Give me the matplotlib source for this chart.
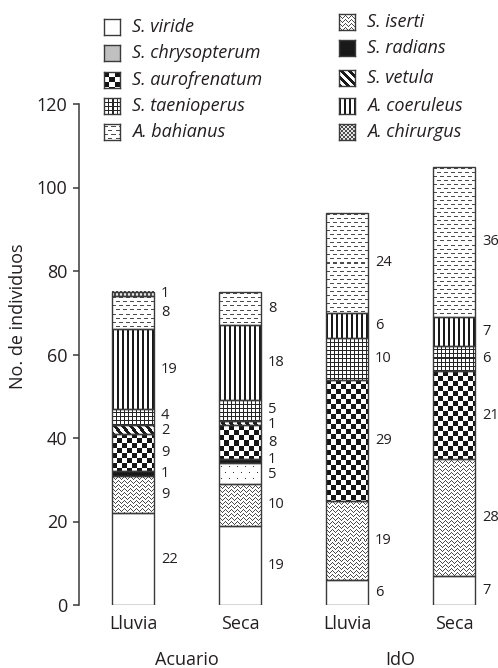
import numpy as np
import matplotlib
matplotlib.use("Agg")
import matplotlib.pyplot as plt
import matplotlib.transforms as mtransforms

plt.rcParams['font.family'] = ['Open Sans', 'DejaVu Sans']

# ── DATA ───────────────────────────────────────────
bars   = ['Lluvia', 'Seca', 'Lluvia', 'Seca']
groups = ['Acuario', 'IdO']

# stacked bottom -> top
species = ['S. viride', 'S. iserti', 'S. chrysopterum', 'S. radians', 'S. aurofrenatum',
           'S. vetula', 'S. taenioperus', 'A. coeruleus', 'A. bahianus', 'A. chirurgus']
viride       = [22, 19, 6, 7]
iserti       = [9, 10, 19, 28]
chrysopterum = [0, 5, 0, 0]
radians      = [1, 1, 0, 0]
aurofrenatum = [9, 8, 29, 21]
vetula       = [2, 1, 0, 0]
taenioperus  = [4, 5, 10, 6]
coeruleus    = [19, 18, 6, 7]
bahianus     = [8, 8, 24, 36]
chirurgus    = [1, 0, 0, 0]
counts = [viride, iserti, chrysopterum, radians, aurofrenatum,
          vetula, taenioperus, coeruleus, bahianus, chirurgus]

legend_left  = ['S. viride', 'S. chrysopterum', 'S. aurofrenatum', 'S. taenioperus', 'A. bahianus']
legend_right = ['S. iserti', 'S. radians', 'S. vetula', 'A. coeruleus', 'A. chirurgus']

# ── STYLE ──────────────────────────────────────────
pattern = {'S. viride': 'white', 'S. iserti': 'zigzag', 'S. chrysopterum': 'dots',
           'S. radians': 'black', 'S. aurofrenatum': 'check', 'S. vetula': 'diag',
           'S. taenioperus': 'grid', 'A. coeruleus': 'vlines', 'A. bahianus': 'dash',
           'A. chirurgus': 'fine'}
legend_pattern = dict(pattern, **{'S. chrysopterum': 'grey'})
INK = '#231f20'
EDGE = '#3a3a3a'


def texture(kind, w, h):
    i, j = np.mgrid[0:h, 0:w]
    img = np.ones((h, w))
    if kind == 'black':
        img[:] = 0.1
    elif kind == 'grey':
        img[:] = 0.75
    elif kind == 'check':
        img = np.where(((i // 5) + (j // 5)) % 2 == 0, 0.08, 1.0)
    elif kind == 'fine':
        img = np.where(((i // 2) + (j // 2)) % 2 == 0, 0.3, 0.9)
    elif kind == 'vlines':
        img = np.where(j % 5 < 2, 0.1, 1.0)
    elif kind == 'grid':
        img = np.where((i % 4 == 0) | (j % 4 == 0), 0.15, 1.0)
    elif kind == 'diag':
        img = np.where((j - i) % 8 < 4, 0.1, 1.0)
    elif kind == 'dash':
        shift = ((i // 4) % 2) * 3
        img = np.where((i % 4 == 2) & ((j + shift) % 7 < 4), 0.3, 1.0)
    elif kind == 'zigzag':
        tri = np.abs((j % 6) - 3)
        img = np.where((i + tri) % 4 < 1, 0.3, 1.0)
    elif kind == 'dots':
        shift = ((i // 6) % 2) * 4
        img = np.where((i % 6 == 3) & ((j + shift) % 8 == 2), 0.2, 1.0)
    return img


W, H = 498, 668
fig = plt.figure(figsize=(W / 100, H / 100), dpi=100)

# axes: left spine at x=79px, y=0 at 605px, y=120 at 104px
ax_l, ax_b, ax_t, ax_r = 79, 605, 104, 498
ax = fig.add_axes([ax_l / W, 1 - ax_b / H, (ax_r - ax_l) / W, (ax_b - ax_t) / H])
x0_px, step_px = 133, 107
xmin = (ax_l - x0_px) / step_px
xmax = (ax_r - x0_px) / step_px
ax.set_xlim(xmin, xmax)
ax.set_ylim(0, 120)
ax.set_autoscale_on(False)

sx = (ax_r - ax_l) / (xmax - xmin)
sy = (ax_b - ax_t) / 120.0
bw = 42 / step_px
gap = 15 / sy   # min vertical distance between value labels

x = np.arange(len(bars))
bottom = np.zeros(len(bars))
labels = [[] for _ in bars]
for name, vals in zip(species, counts):
    for k in range(len(bars)):
        v = vals[k]
        if v <= 0:
            continue
        b = bottom[k]
        wpx = int(round(bw * sx))
        hpx = max(1, int(round(v * sy)))
        ax.imshow(texture(pattern[name], wpx, hpx), cmap='gray', vmin=0, vmax=1,
                  interpolation='nearest', aspect='auto', origin='upper',
                  extent=(x[k] - bw / 2, x[k] + bw / 2, b, b + v), zorder=2)
        ax.bar(x[k], v, bottom=b, width=bw, facecolor='none', edgecolor=EDGE,
               linewidth=1.0, zorder=3)
        labels[k].append([b + v / 2, v])
    bottom += np.array(vals)

# spread value labels so small segments don't collide
for k, labs in enumerate(labels):
    ys = [l[0] for l in labs]
    for _ in range(100):
        for a in range(len(ys) - 1):
            d = ys[a + 1] - ys[a]
            if d < gap:
                sh = (gap - d) / 2
                ys[a] -= sh
                ys[a + 1] += sh
    for yv, (_, v) in zip(ys, labs):
        ax.text(x[k] + bw / 2 + 7 / sx, yv, str(v), ha='left', va='center',
                fontsize=10.5, color=INK)

ax.set_xlim(xmin, xmax)
ax.set_ylim(0, 120)

for s in ['top', 'right', 'bottom']:
    ax.spines[s].set_visible(False)
ax.spines['left'].set_color(EDGE)
ax.spines['left'].set_linewidth(1.1)
ax.spines['left'].set_bounds(0, 120)
ax.set_yticks(range(0, 121, 20))
ax.tick_params(axis='y', length=4.3, width=1.1, color=EDGE, labelsize=13,
               labelcolor=INK, pad=4)
ax.set_xticks(x, bars)
ax.tick_params(axis='x', length=0, labelsize=13, labelcolor=INK, pad=7)
ax.patch.set_visible(False)

fig.text(18 / W, 1 - 316 / H, 'No. de individuos', rotation=90, ha='center',
         va='center', fontsize=13, color=INK)

trans = mtransforms.blended_transform_factory(ax.transData, fig.transFigure)
for g, name in enumerate(groups):
    fig.text((x[2 * g] + x[2 * g + 1]) / 2, 1 - 660 / H, name, transform=trans,
             ha='center', va='center', fontsize=13, color=INK)

# legend
def legend_entry(name, sq_x, txt_x, yc):
    s = 16
    iax = fig.add_axes([sq_x / W, 1 - (yc + s / 2) / H, s / W, s / H])
    iax.imshow(texture(legend_pattern[name], s, s), cmap='gray', vmin=0, vmax=1,
               interpolation='nearest', aspect='auto')
    iax.set_xticks([]); iax.set_yticks([])
    for sp in iax.spines.values():
        sp.set_color(EDGE); sp.set_linewidth(1.0)
    fig.text(txt_x / W, 1 - yc / H, name, ha='left', va='center', fontsize=13,
             style='italic', color=INK)

for name, yc in zip(legend_left, [27, 53, 80, 106, 132]):
    legend_entry(name, 104, 132, yc)
for name, yc in zip(legend_right, [22, 48, 78, 106, 132]):
    legend_entry(name, 339, 367, yc)

fig.savefig('out.png', dpi=100)
